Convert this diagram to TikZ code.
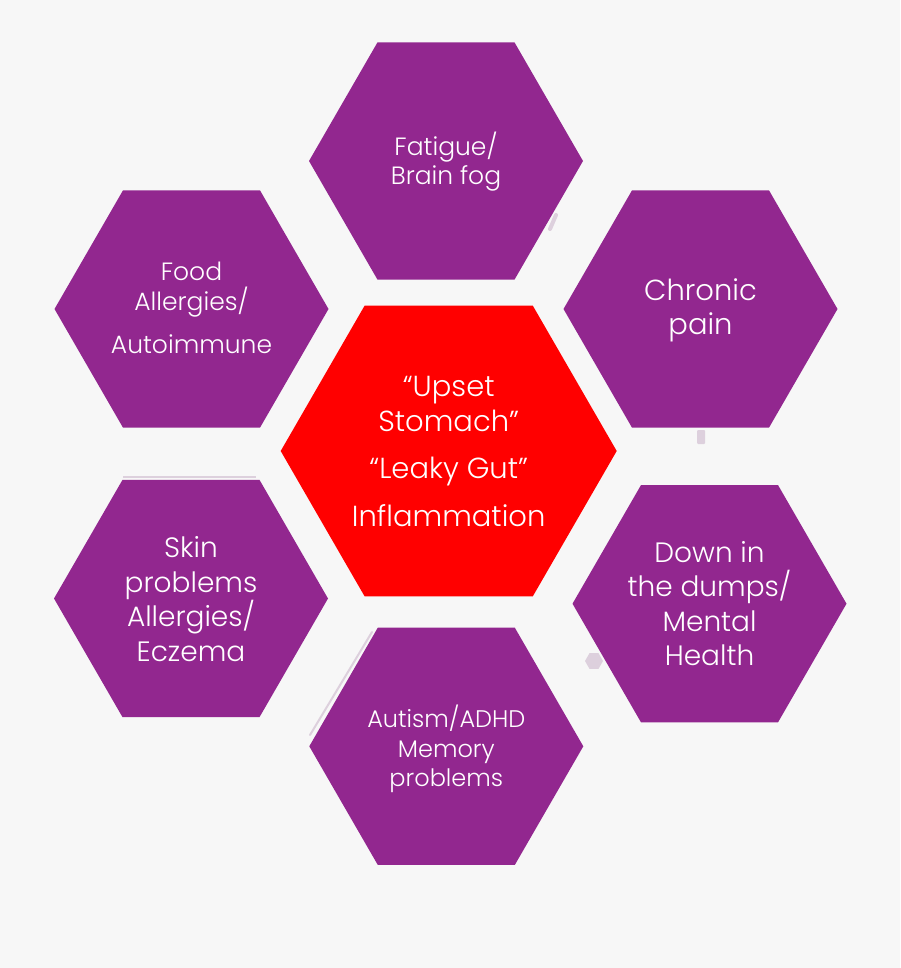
\documentclass[tikz,border=0pt]{standalone}
\usepackage{fontspec}
\setmainfont{Poppins Light}
\usetikzlibrary{shapes.geometric}
\definecolor{bgc}{HTML}{F7F7F7}
\definecolor{hexpurple}{HTML}{92278F}
\definecolor{hexred}{HTML}{FF0000}
\definecolor{smudge}{HTML}{DDD0DD}
\tikzset{
  hexbox/.style={regular polygon, regular polygon sides=6, minimum size=274pt,
    inner sep=0pt, outer sep=0pt, draw=none, fill=hexpurple},
  bighex/.style={hexbox, minimum size=336pt, fill=hexred},
  lbl/.style={text=white, align=center, inner sep=0pt},
}
\begin{document}
\begin{tikzpicture}[x=1pt,y=-1pt]
\fill[bgc] (0,0) rectangle (900,968);
\useasboundingbox (0,0) rectangle (900,968);
% faint smudges
\draw[smudge, line width=2.5pt] (123,477) -- (256,477);
\draw[smudge, line width=2pt, line cap=round] (372,632) -- (310,735);
\node[regular polygon, regular polygon sides=6, minimum size=18pt, inner sep=0pt, fill=smudge] (sm1) at (594,661) {};
\fill[smudge, rounded corners=1pt] (697,430) rectangle (705,444);
\draw[smudge, line width=4pt, line cap=round] (556,215) -- (550,229);
% hexagons
\node[hexbox] (top) at (446,161) {};
\node[hexbox] (chronic) at (700.5,309) {};
\node[hexbox] (food) at (191.5,309) {};
\node[bighex] (center) at (448.7,451) {};
\node[hexbox] (skin) at (191,598.5) {};
\node[hexbox] (down) at (709.5,603.7) {};
\node[hexbox] (autism) at (446.3,746.3) {};
% labels
\node[lbl, font=\fontsize{25}{29}\selectfont] (topt) at (446,162) {Fatigue/\\Brain fog};
\node[lbl, font=\fontsize{29}{34}\selectfont] (chronict) at (700.5,310) {Chronic\\pain};
\node[lbl, font=\fontsize{25}{30}\selectfont] (foodt) at (191.5,308) {Food\\Allergies/\\[13pt]Autoimmune};
\node[lbl, font=\fontsize{29}{34.5}\selectfont] (centert) at (448.7,451.5) {“Upset\\Stomach”\\[13pt]“Leaky Gut”\\[13pt]Inflammation};
\node[lbl, font=\fontsize{28}{34.5}\selectfont] (skint) at (191,599) {Skin\\problems\\Allergies/\\Eczema};
\node[lbl, font=\fontsize{28}{34.5}\selectfont] (downt) at (709.5,603.7) {Down in\\the dumps/\\Mental\\Health};
\node[lbl, font=\fontsize{24}{29.5}\selectfont] (autismt) at (446.3,749) {Autism/ADHD\\Memory\\problems};
\end{tikzpicture}
\end{document}
